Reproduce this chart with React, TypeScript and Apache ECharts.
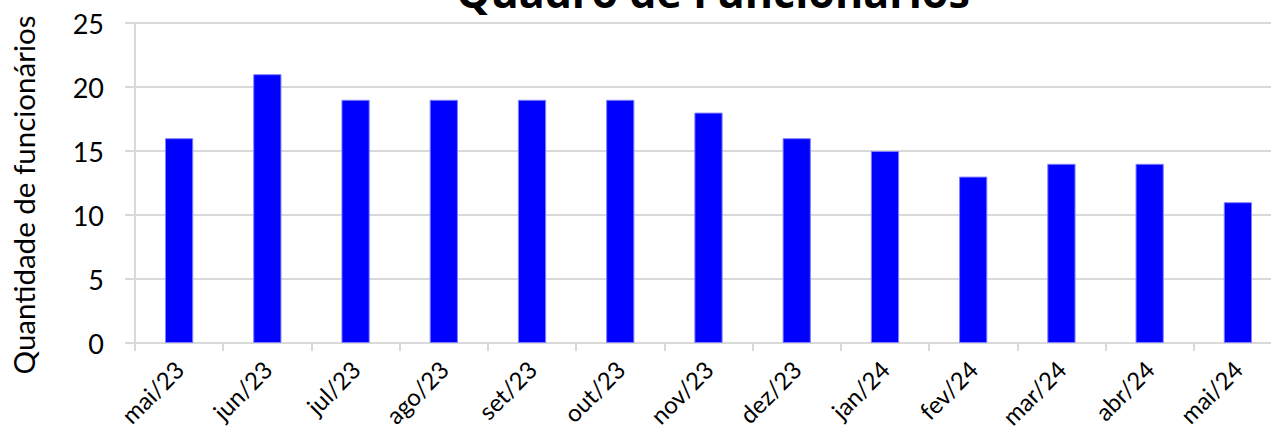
import React, { useEffect, useRef } from "react";
import * as echarts from "echarts";

const categories = ["mai/23", "jun/23", "jul/23", "ago/23", "set/23", "out/23", "nov/23", "dez/23", "jan/24", "fev/24", "mar/24", "abr/24", "mai/24"];
const values = [16, 21, 19, 19, 19, 19, 18, 16, 15, 13, 14, 14, 11];
const yTicks = [0, 5, 10, 15, 20, 25];
const titleText = "Quadro de Funcionários";
const yName = "Quantidade de funcionários";

const FONT = "Lato, 'Open Sans', sans-serif";

export default function App() {
  const ref = useRef<HTMLDivElement>(null);
  useEffect(() => {
    document.body.style.margin = "0";
    const chart = echarts.init(ref.current!, undefined, { renderer: "svg" });
    chart.setOption({
      animation: false,
      title: {
        text: titleText,
        left: 708,
        textAlign: "center",
        top: -35,
        textStyle: { fontFamily: "'Open Sans', sans-serif", fontWeight: "bold", fontSize: 43, color: "#000" },
      },
      graphic: [
        {
          type: "text",
          x: 23,
          y: 195,
          rotation: Math.PI / 2,
          style: {
            text: yName,
            fontSize: 29.5,
            fontFamily: FONT,
            fill: "#000",
            textAlign: "center",
            textVerticalAlign: "middle",
          },
        },
      ],
      grid: { left: 135, right: 0, top: 23, bottom: 90, containLabel: false, outerBoundsMode: "none" },
      xAxis: {
        type: "category",
        data: categories,
        axisLine: { lineStyle: { color: "#d9d9d9", width: 2 } },
        axisTick: { show: true, length: 8, lineStyle: { color: "#d9d9d9", width: 2 } },
        axisLabel: { rotate: 45, fontSize: 24, fontFamily: FONT, color: "#000", margin: 22, interval: 0 },
      },
      yAxis: {
        type: "value",
        min: yTicks[0],
        max: yTicks[yTicks.length - 1],
        interval: 5,
        axisLine: { show: true, lineStyle: { color: "#d9d9d9", width: 2 } },
        axisTick: { show: true, length: 10, inside: false, lineStyle: { color: "#d9d9d9", width: 2 } },
        splitLine: { lineStyle: { color: "#d9d9d9", width: 2 } },
        axisLabel: { fontSize: 27, fontFamily: FONT, color: "#000", margin: 31 },
      },
      series: [
        {
          type: "bar",
          data: values,
          barWidth: "32%",
          itemStyle: { color: "#0000ff", borderColor: "#8080ff", borderWidth: 1 },
        },
      ],
    });
    return () => chart.dispose();
  }, []);
  return (
    <div style={{ width: 1271, height: 433, overflow: "hidden", position: "relative" }}>
      <div ref={ref} style={{ width: 1282, height: 433 }} />
    </div>
  );
}
